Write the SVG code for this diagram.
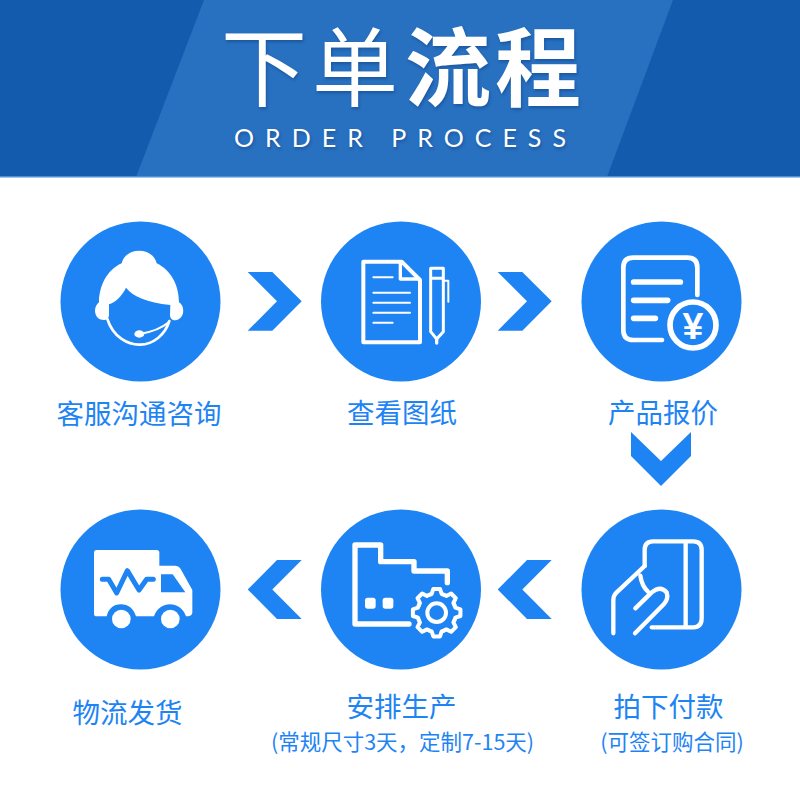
<svg xmlns="http://www.w3.org/2000/svg" width="800" height="800" viewBox="0 0 800 800">
<style>
.c{fill:#1e84f4}
.a{fill:#1e84f4}
.s{fill:none;stroke:#fff;stroke-linecap:round;stroke-linejoin:round}
.w{fill:#fff}
.b{fill:#1e84f4}
text{font-family:"Noto Sans CJK SC","Noto Sans",sans-serif}
.l{font-size:27.5px;fill:#1e84f4;text-anchor:middle}
.m{font-size:21.5px;fill:#1e84f4;text-anchor:middle}
.t{font-size:86px;fill:#fff;text-anchor:middle;text-shadow:1px 2px 3px rgba(10,58,120,.45)}
.o{font-size:25px;fill:#fff;font-family:Lato,"Open Sans",sans-serif;text-shadow:1px 2px 3px rgba(10,58,120,.45)}
</style>
<defs>
<polyline id="tooth" points="-22.2,-53.6 -15,-56 -10,-71.3 10,-71.3 15,-56 22.2,-53.6"/>
</defs>
<rect width="800" height="800" fill="#fff"/>
<g id="header">
<rect width="800" height="177" fill="#135bac"/>
<polygon points="204,0 673,0 607,177 136,177" fill="#2870c0"/>
<rect y="176" width="800" height="1.5" fill="#4a90d8"/>
<text class="t" x="264" y="100" font-weight="400">下</text>
<text class="t" x="355" y="100" font-weight="400">单</text>
<text class="t" x="448" y="100" font-weight="700">流</text>
<text class="t" x="538" y="100" font-weight="700">程</text>
<text class="o" x="234" y="147" textLength="332">ORDER PROCESS</text>
</g>
<g id="connectors">
<polygon id="c1" class="a" points="247.7,272 272.3,272 301.7,301.3 272.3,330.7 247.7,330.7 277,301.3"/>
<polygon id="c2" class="a" points="497.7,272 522.3,272 551.7,301.3 522.3,330.7 497.7,330.7 527,301.3"/>
<polygon id="c3" class="a" points="631,432 661,461 691,432 691,456 661,486 631,456"/>
<polygon id="c4" class="a" points="551.7,560 527,560 497.7,589.5 527,619 551.7,619 522.3,589.5"/>
<polygon id="c5" class="a" points="301.7,560 277,560 247.7,589.5 277,619 301.7,619 272.3,589.5"/>
</g>
<g id="node1">
<circle class="c" cx="140.5" cy="301.5" r="80"/>
<g transform="translate(50 215) scale(.33333)">
<path class="w" d="M215,145C225,95 310,95 320,145C362,165 387,210 387,262C404,272 404,302 387,312C375,320 360,315 360,300L361,270C290,262 250,245 228,218C215,245 195,262 177,268L177,300C177,318 155,318 145,310C130,298 133,272 147,262C147,215 170,165 215,145Z"/>
<path class="s" stroke-width="8" d="M172,312C190,368 235,390 270,389C310,388 345,360 358,318"/>
<path class="s" stroke-width="6" d="M270,357C300,352 335,340 356,322"/>
<ellipse class="w" cx="268" cy="357" rx="15" ry="11"/>
</g>
<text class="l" x="139" y="424">客服沟通咨询</text>
</g>
<g id="node2">
<circle class="c" cx="401" cy="301.5" r="80"/>
<g transform="translate(310 215) scale(.33333)">
<path class="s" stroke-width="12" d="M160,140H275L330,195V382H160Z"/>
<path class="s" stroke-width="10" d="M271,142V192H328"/>
<path class="s" stroke-width="6" d="M190,187H248M190,233H300M190,263H300M190,293H300M190,323H248"/>
<path class="s" stroke-width="9" d="M362,160H400V350L380,372L362,350ZM362,190H400"/>
<path class="s" stroke-width="10" d="M380,372V384"/>
<path class="s" stroke-width="6" d="M400,197H415V260"/>
</g>
<text class="l" x="402" y="423">查看图纸</text>
</g>
<g id="node3">
<circle class="c" cx="661.5" cy="301.5" r="80"/>
<g transform="translate(570 215) scale(.33333)">
<path class="s" stroke-width="14" d="M276,375H190Q160,375 160,345V158Q160,128 190,128H352Q382,128 382,158V240"/>
<path class="s" stroke-width="17" d="M191,201H331M191,256H293M191,310H256"/>
<circle cx="369" cy="330" r="69" fill="#1e84f4" stroke="#fff" stroke-width="17"/>
<text x="369" y="373" font-size="112" font-weight="700" fill="#fff" text-anchor="middle" style="font-family:'Liberation Sans',sans-serif">¥</text>
</g>
<text class="l" x="663" y="423">产品报价</text>
</g>
<g id="node4">
<circle class="c" cx="661.5" cy="589.5" r="80"/>
<g transform="translate(570 505) scale(.33333)">
<path class="s" stroke-width="13" d="M224,183V135Q224,109 249,109H370Q395,109 395,135V340Q395,367 370,367H245M347,112V364"/>
<path class="s" stroke-width="13" d="M130,385V285Q130,272 140,262L224,183"/>
<path class="s" stroke-width="13" d="M211,212C214,232 220,248 234,260"/>
<path class="s" stroke-width="13" d="M196,310L245,262Q272,240 290,262Q296,282 282,297L195,385"/>
</g>
<text class="l" x="668.5" y="717">拍下付款</text>
<text class="m" x="672" y="750">(可签订购合同)</text>
</g>
<g id="node5">
<circle class="c" cx="401" cy="589.5" r="80"/>
<g transform="translate(310 505) scale(.33333)">
<path class="s" stroke-width="16" d="M297,357H135V120H212V170H312V198H412V233"/>
<rect class="w" x="165" y="278" width="32" height="33" rx="8"/>
<rect class="w" x="218" y="278" width="32" height="33" rx="8"/>
<g class="s" stroke-width="12" transform="translate(380 323)">
<use href="#tooth"/><use href="#tooth" transform="rotate(45)"/><use href="#tooth" transform="rotate(90)"/><use href="#tooth" transform="rotate(135)"/><use href="#tooth" transform="rotate(180)"/><use href="#tooth" transform="rotate(225)"/><use href="#tooth" transform="rotate(270)"/><use href="#tooth" transform="rotate(315)"/>
<circle r="28"/>
</g>
</g>
<text class="l" x="401.500" y="717">安排生产</text>
<text class="m" x="402.500" y="750">(常规尺寸3天，定制7-15天)</text>
</g>
<g id="node6">
<circle class="c" cx="140.500" cy="589.5" r="80"/>
<g transform="translate(50 505) scale(.33333)">
<path class="w" d="M140,135H320Q328,135 328,143V182H375Q385,182 392,192L427,255V322Q427,332 415,334H408C400,310 380,298 360,298C340,298 320,310 312,334H258C250,310 235,298 213,298C190,298 175,312 170,334H140Q132,334 132,326V143Q132,135 140,135Z"/>
<path class="b" d="M333,208H368L406,262H333Z"/>
<circle class="w" cx="214" cy="342" r="28"/>
<circle class="w" cx="361" cy="342" r="28"/>
<path d="M157,223H176L200,264L232,197L267,255L290,223H310" fill="none" stroke="#1e84f4" stroke-width="15" stroke-linecap="round" stroke-linejoin="round"/>
</g>
<text class="l" x="127.500" y="723">物流发货</text>
</g>
</svg>
